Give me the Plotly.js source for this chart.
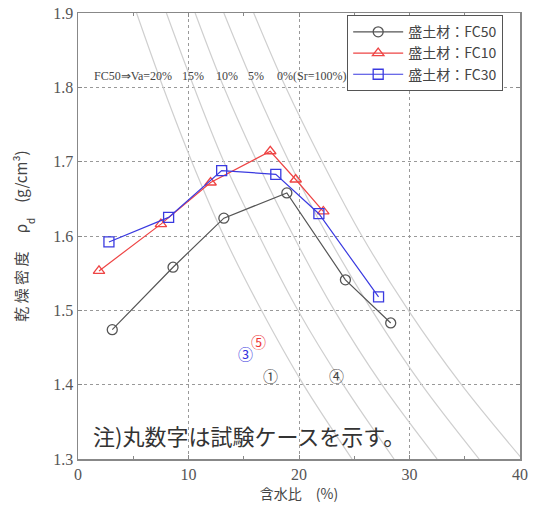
<!DOCTYPE html>
<html><head><meta charset="utf-8">
<script src="https://cdn.plot.ly/plotly-3.0.1.min.js"></script>
<style>html,body{margin:0;padding:0;background:#fff}#c{width:534px;height:508px}</style>
</head><body><div id="c"></div>
<script>
// compaction test series
const seriesNames = ['盛土材：FC50', '盛土材：FC10', '盛土材：FC30'];
const fc50W = [3.1, 8.6, 13.2, 18.9, 24.2, 28.3];
const fc50Rho = [1.474, 1.558, 1.624, 1.658, 1.541, 1.483];
const fc10W = [1.9, 7.5, 12.0, 17.4, 19.7, 22.2];
const fc10Rho = [1.553, 1.616, 1.672, 1.714, 1.676, 1.633];
const fc30W = [2.8, 8.2, 13.0, 17.9, 21.8, 27.2];
const fc30Rho = [1.592, 1.625, 1.688, 1.683, 1.630, 1.518];

// test case markers (circled case numbers)
const caseLabels = ['①', '③', '④', '⑤'];
const caseW = [17.4, 15.2, 23.4, 16.3];
const caseRho = [1.413, 1.442, 1.413, 1.458];
const caseColors = ['#444444', '#3333dd', '#444444', '#ee3333'];

// air-void curves (FC50): water content read at each density level
const curveRho = [1.3, 1.4, 1.5, 1.6, 1.7, 1.8, 1.9];
const va20W = [24.8, 20.4, 16.6, 13.2, 10.3, 7.7, 5.3];
const va15W = [28.6, 24.0, 19.9, 16.4, 13.2, 10.5, 8.0];
const va10W = [32.5, 27.5, 23.2, 19.5, 16.2, 13.2, 10.6];
const va5W = [36.3, 31.1, 26.6, 22.6, 19.1, 16.0, 13.2];
const va0W = [40.2, 34.7, 29.9, 25.7, 22.1, 18.8, 15.9];
const curveLabels = ['FC50⇒Va=20%', '15%', '10%', '5%', '0%(Sr=100%)'];
const curveLabelX = [1.3, 9.2, 12.3, 15.2, 17.8];

const xTicks = [0, 10, 20, 30, 40];
const yTicks = [1.3, 1.4, 1.5, 1.6, 1.7, 1.8, 1.9];

const traces = [];
[va20W, va15W, va10W, va5W, va0W].forEach(w => {
  traces.push({x: w, y: curveRho, mode: 'lines', line: {color: '#cfcfcf', width: 1.2, shape: 'spline'},
    showlegend: false, hoverinfo: 'skip'});
});
const styles = [
  {c: '#555555', s: 'circle-open'},
  {c: '#ee4444', s: 'triangle-up-open'},
  {c: '#3a3ae0', s: 'square-open'}
];
[[fc50W, fc50Rho], [fc10W, fc10Rho], [fc30W, fc30Rho]].forEach((d, i) => {
  traces.push({x: d[0], y: d[1], name: seriesNames[i], mode: 'lines+markers',
    line: {color: styles[i].c, width: 1.2},
    marker: {symbol: styles[i].s, size: 10, color: styles[i].c, line: {width: 1.3, color: styles[i].c}}});
});

const annotations = [
  {xref: 'paper', yref: 'paper', x: 0.03, y: 0.053, xanchor: 'left', yanchor: 'middle', showarrow: false,
    text: '注)丸数字は試験ケースを示す。', font: {family: 'Noto Sans CJK JP', size: 22, color: '#333'}}
];
curveLabels.forEach((t, i) => annotations.push({xref: 'x', yref: 'y', x: curveLabelX[i], y: 1.815,
  xanchor: 'left', yanchor: 'middle', showarrow: false, text: t,
  font: {family: 'Liberation Serif, serif', size: 12, color: '#444'}}));
caseLabels.forEach((t, i) => annotations.push({xref: 'x', yref: 'y', x: caseW[i], y: caseRho[i],
  showarrow: false, text: t, font: {family: 'Noto Sans CJK JP', size: 15, color: caseColors[i]}}));

const tickFont = {family: 'Liberation Serif, DejaVu Serif, serif', size: 16, color: '#555'};
const layout = {
  width: 534, height: 508,
  margin: {l: 78, r: 14, t: 13, b: 49},
  paper_bgcolor: '#fff', plot_bgcolor: '#fff',
  font: {family: 'Noto Sans CJK JP', color: '#444'},
  xaxis: {range: [0, 40], tickvals: xTicks, ticktext: xTicks.map(String), tickfont: tickFont,
    showgrid: true, gridcolor: '#999', griddash: 'dot', gridwidth: 1,
    zeroline: false, showline: true, linecolor: '#888', linewidth: 1.5, mirror: 'ticks',
    ticks: 'inside', ticklen: 4, tickcolor: '#888',
    minor: {dtick: 5, ticks: 'inside', ticklen: 3, tickcolor: '#888', showgrid: false},
    title: {text: '含水比　(%)', font: {family: 'Noto Sans CJK JP', size: 14, color: '#444'}, standoff: 6}},
  yaxis: {range: [1.3, 1.9], tickvals: yTicks, ticktext: yTicks.map(v => v.toFixed(1)), tickfont: tickFont,
    showgrid: true, gridcolor: '#999', griddash: 'dot', gridwidth: 1,
    zeroline: false, showline: true, linecolor: '#888', linewidth: 1.5, mirror: 'ticks',
    ticks: 'inside', ticklen: 4, tickcolor: '#888',
    title: {text: '乾 燥 密 度　 ρ<span style="font-size:10px;baseline-shift:sub">d</span>　(g/cm³)',
      font: {family: 'Noto Sans CJK JP', size: 15, color: '#444'}, standoff: 22}},
  legend: {x: 0.609, y: 0.995, xanchor: 'left', yanchor: 'top', bgcolor: '#fff',
    bordercolor: '#555', borderwidth: 1, font: {family: 'Noto Sans CJK JP', size: 14, color: '#444'},
    tracegroupgap: 0, itemwidth: 50},
  annotations: annotations,
  showlegend: true
};
Plotly.newPlot('c', traces, layout, {displayModeBar: false, staticPlot: true});
</script></body></html>
